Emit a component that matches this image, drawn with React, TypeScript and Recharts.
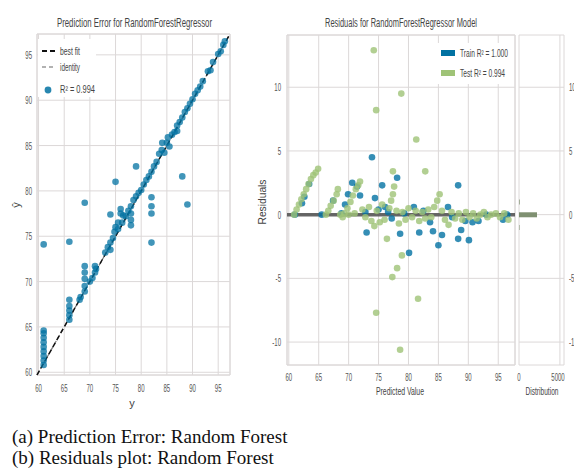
import React from 'react';
import {
  ScatterChart, Scatter, BarChart, Bar, XAxis, YAxis, CartesianGrid,
  ReferenceLine, ReferenceArea,
} from 'recharts';

// prediction error: [actual y, predicted ŷ]
const predictionPoints: [number, number][] = [
  [61, 60.8], [61, 61.3], [61, 61.8], [61, 62.3], [61, 62.8], [61, 63.3], [61, 63.8], [61, 64.3], [61, 64.6], [61, 74.1],
  [66, 74.4], [66, 65.8], [66, 66.3], [66, 66.8], [66, 67.3], [66, 68.0],
  [68, 68], [68.2, 68.3],
  [69, 78.7], [69, 71.7], [69, 71], [69, 70.3], [69, 69.5], [69, 68.9],
  [70, 70], [70.5, 70.4], [71, 71], [71, 71.7], [71.2, 71.4],
  [73, 73.2], [73.5, 73.8], [74, 73.5], [74, 74.3], [74, 77.4], [74.5, 74.8], [74.8, 75.5], [75, 76], [75, 81],
  [75.5, 75.8], [75.5, 76.5], [76, 78], [76, 77.5], [76.3, 76.5], [76.5, 77.3], [77, 77.2], [77.5, 77.8],
  [78, 76.2], [78, 76.8], [78, 77.5], [78, 78.3], [78.5, 79], [79, 79.4], [79, 82.7], [79.5, 79.8],
  [80, 80.1], [80.5, 80.7], [81, 81.2], [82, 79.3], [82, 78.3], [82, 77.5], [82, 74.3], [81.5, 81.6],
  [82, 82.1], [82.5, 82.7], [83, 83.2], [83.5, 84.1], [84, 84.5], [84.1, 85.3], [84.5, 84.2], [85, 85.3],
  [85.2, 85.9], [85.5, 84.9], [86, 86.2], [86.5, 86.5], [87, 86.6], [87, 87.2], [87.5, 87.6], [88, 81.6],
  [88, 88.1], [88.5, 88.7], [89, 78.5], [89, 89.1], [89.5, 89.6], [90, 90.1], [90.5, 90.7], [91, 91.1],
  [91.5, 91.5], [92, 92.1], [93, 93.2], [93.5, 93.3], [94, 94.2], [95, 95.1], [95.5, 95.4], [96, 96.1], [96.3, 96.5],
];
const predTicks = [60, 65, 70, 75, 80, 85, 90, 95];
const predDomain: [number, number] = [59.7, 97.3];

// residuals: [predicted value, residual]
const trainResiduals: [number, number][] = [
  [61.0, 0.0], [62.2, 0.9], [62.6, 1.4], [63.4, 2.4], [65.5, 0.0], [67.4, 1.1], [68.8, 0.1], [69.4, 0.8],
  [69.9, 1.6], [70.6, 2.5], [71.4, 2.2], [71.9, 1.5], [72.8, 0.2], [73.0, -1.4], [73.9, 4.5], [74.4, 1.3],
  [75.0, 0.4], [75.6, 2.3], [76.1, 0.6], [76.6, 0.2], [77.2, -0.3], [78.1, 2.9], [78.6, -1.5], [79.3, 0.1],
  [80.1, -3.0], [80.9, 0.6], [81.8, -1.4], [82.5, 0.3], [83.6, -0.6], [84.1, -1.3], [85.0, -2.4], [85.6, -1.6],
  [86.6, 0.6], [87.3, -0.2], [88.3, 2.3], [88.3, -1.9], [88.8, -1.2], [89.5, -0.5], [90.1, -2.0], [90.7, -0.6],
  [91.7, -0.5], [93.0, 0.0], [95.8, -0.4], [96.5, 0.0],
];
const testResiduals: [number, number][] = [
  [60.9, 0.0], [61.3, 0.4], [61.7, 0.8], [62.1, 1.2], [62.5, 1.6], [62.9, 2.0], [63.3, 2.4], [63.7, 2.8],
  [64.1, 3.1], [64.5, 3.3], [64.9, 3.6],
  [66.2, 0.0], [66.6, 0.3], [67.0, 0.7], [67.5, 1.1], [68.0, 1.6], [68.2, 2.0],
  [69.3, 0.1], [69.8, 0.5], [70.3, 1.0], [70.7, 1.5], [71.2, 2.0], [71.6, 2.3], [71.9, 2.6],
  [68.6, 0.0], [69.0, -0.2], [70.0, 0.0], [71.0, 0.1], [72.3, 0.4], [72.8, -0.2], [73.4, 0.6], [73.8, -0.5],
  [74.3, -0.9], [74.7, 0.3], [75.2, -0.6], [75.6, 0.8], [76.0, -0.4], [76.4, -1.9], [76.8, 0.5], [77.1, 1.1],
  [77.4, 1.6], [77.6, 2.2], [77.4, 3.4], [78.0, 0.3], [78.4, -0.7], [79.0, 0.2], [79.5, -0.4], [80.0, 0.5],
  [80.6, -0.2], [81.2, 0.3], [81.8, -0.5], [82.3, 0.2], [82.8, -0.3], [83.3, 0.4], [83.8, -0.2], [84.3, 0.6],
  [84.8, 1.1], [85.2, 1.6], [85.6, 0.3], [86.1, -0.4], [86.7, -0.8], [87.2, 0.2], [87.8, -0.3], [88.4, 0.1],
  [89.0, -0.4], [89.6, 0.2], [90.2, -0.2], [90.8, 0.1], [91.4, -0.3], [92.0, 0.0], [92.6, 0.2], [93.2, -0.2],
  [93.8, 0.0], [94.6, 0.1], [95.3, -0.2], [96.0, 0.1], [96.7, -0.4],
  [74.2, 12.9], [78.8, 9.5], [74.6, 8.2], [81.3, 5.9], [82.8, 3.4], [78.6, -10.6], [74.6, -7.7],
  [81.6, -6.6], [77.3, -4.9], [78.1, -4.2], [78.9, -3.2],
];
const residXTicks = [60, 65, 70, 75, 80, 85, 90, 95];
const residYTicks = [-10, -5, 0, 5, 10];
const residXDomain: [number, number] = [59.7, 97.8];
const residYDomain: [number, number] = [-11.8, 14.1];

// residual distribution histogram
const distBins = [-1, 0, 1];
const distCounts = [60, 2200, 80];
const distTicks = [0, 5000];

const BLUE = '#0272a2';
const GREEN = '#9fc377';
const GRID = '#dcd8d8';
const SANS = "'Liberation Sans', Arial, sans-serif";

const predData = predictionPoints.map(([x, y]) => ({ x, y }));
const trainData = trainResiduals.map(([x, y]) => ({ x, y }));
const testData = testResiduals.map(([x, y]) => ({ x, y }));
const distData = distBins.map((bin, i) => ({ bin, count: distCounts[i] }));

const makeTick = (dx: number, dy: number, anchor: string) => (props: any) => {
  const { x, y, payload } = props;
  return (
    <text
      transform={`translate(${x + dx},${y + dy}) scale(0.55,1)`}
      textAnchor={anchor}
      fontSize={11}
      fill="#555"
      fontFamily={SANS}
    >
      {payload.value}
    </text>
  );
};

const dot = (color: string, opacity: number) => (p: any) => (
  <circle cx={p.cx} cy={p.cy} r={3.3} fill={color} fillOpacity={opacity} />
);

const layer: React.CSSProperties = { position: 'absolute', left: 0, top: 0 };

const Sq = ({ x, y, len, size = 11, anchor = 'start', rotate = false, fill = '#444', children }: any) => (
  <text
    x={rotate ? 0 : x}
    y={rotate ? 0 : y}
    transform={rotate ? `translate(${x},${y}) rotate(-90)` : undefined}
    textAnchor={anchor}
    fontSize={size}
    fill={fill}
    fontFamily={SANS}
    textLength={len}
    lengthAdjust="spacingAndGlyphs"
  >
    {children}
  </text>
);

export default function App() {
  return (
    <div style={{ position: 'absolute', left: 0, top: 0, width: 574, height: 474, overflow: 'hidden', background: '#fff' }}>
      {/* prediction error */}
      <div style={layer}>
        <ScatterChart width={574} height={474} margin={{ top: 34, right: 344, bottom: 98, left: 36 }}>
          <CartesianGrid stroke={GRID} />
          <ReferenceArea x1={predDomain[0]} x2={predDomain[1]} y1={predDomain[0]} y2={predDomain[1]} fill="none" stroke={GRID} />
          <XAxis type="number" dataKey="x" domain={predDomain} ticks={predTicks} allowDataOverflow height={1}
            axisLine={false} tickLine={false} tickSize={0} tickMargin={0} tick={makeTick(0, 17, 'middle')} />
          <YAxis type="number" dataKey="y" domain={predDomain} ticks={predTicks} allowDataOverflow width={1}
            axisLine={false} tickLine={false} tickSize={0} tickMargin={0} tick={makeTick(-5, 4, 'end')} />
          <ReferenceLine segment={[{ x: predDomain[0], y: predDomain[0] }, { x: predDomain[1], y: predDomain[1] }]}
            stroke="#777" strokeWidth={1.2} strokeDasharray="4 3" />
          <Scatter data={predData} shape={dot(BLUE, 0.75)} isAnimationActive={false} />
          <ReferenceLine segment={[{ x: predDomain[0], y: predDomain[0] }, { x: predDomain[1], y: predDomain[1] }]}
            stroke="#111" strokeWidth={1.5} strokeDasharray="5 3" />
        </ScatterChart>
      </div>

      {/* residuals */}
      <div style={layer}>
        <ScatterChart width={574} height={474} margin={{ top: 35, right: 59, bottom: 108, left: 286 }}>
          <CartesianGrid stroke={GRID} />
          <ReferenceArea x1={residXDomain[0]} x2={residXDomain[1]} y1={residYDomain[0]} y2={residYDomain[1]} fill="none" stroke={GRID} />
          <XAxis type="number" dataKey="x" domain={residXDomain} ticks={residXTicks} allowDataOverflow height={1}
            axisLine={false} tickLine={false} tickSize={0} tickMargin={0} tick={makeTick(0, 16, 'middle')} />
          <YAxis type="number" dataKey="y" domain={residYDomain} ticks={residYTicks} allowDataOverflow width={1}
            axisLine={false} tickLine={false} tickSize={0} tickMargin={0} tick={makeTick(-6, 4, 'end')} />
          <ReferenceLine y={0} stroke="#555" strokeWidth={3.5} strokeOpacity={0.9} />
          <Scatter data={trainData} shape={dot(BLUE, 0.8)} isAnimationActive={false} />
          <Scatter data={testData} shape={dot(GREEN, 0.8)} isAnimationActive={false} />
        </ScatterChart>
      </div>

      {/* distribution */}
      <div style={layer}>
        <BarChart width={574} height={474} layout="vertical" data={distData}
          margin={{ top: 35, right: 9, bottom: 108, left: 519 }}>
          <CartesianGrid stroke={GRID} />
          <XAxis type="number" domain={[0, 5500]} ticks={distTicks} allowDataOverflow height={1}
            axisLine={false} tickLine={false} tickSize={0} tickMargin={0} tick={makeTick(0, 16, 'middle')} />
          <YAxis type="number" dataKey="bin" domain={residYDomain} ticks={residYTicks} allowDataOverflow width={1} reversed
            orientation="right" axisLine={false} tickLine={false} tickSize={0} tickMargin={0} tick={makeTick(5, 4, 'start')} />
          <Bar dataKey="count" fill="#7f9071" barSize={5} isAnimationActive={false} />
        </BarChart>
      </div>

      {/* titles, labels, legends */}
      <svg width={574} height={474} style={{ ...layer, pointerEvents: 'none' }}>
        <Sq x={134.5} y={27} len={155} size={12} anchor="middle">Prediction Error for RandomForestRegressor</Sq>
        <Sq x={401} y={27} len={152} size={12} anchor="middle">Residuals for RandomForestRegressor Model</Sq>
        <Sq x={20} y={205} size={11} anchor="middle" rotate>ŷ</Sq>
        <Sq x={132} y={407} size={11} anchor="middle">y</Sq>
        <Sq x={400} y={395} len={48} size={11} anchor="middle">Predicted Value</Sq>
        <Sq x={542} y={395} len={33} size={11} anchor="middle">Distribution</Sq>
        <Sq x={266} y={202} len={45} size={11} anchor="middle" rotate>Residuals</Sq>

        <rect x={38} y={39} width={58} height={58} fill="#fff" />
        <line x1={42} y1={51} x2={56} y2={51} stroke="#111" strokeWidth={2} strokeDasharray="5 3" />
        <Sq x={60} y={55} len={20} size={10}>best fit</Sq>
        <line x1={42} y1={67} x2={56} y2={67} stroke="#666" strokeWidth={1.2} strokeDasharray="4 3" />
        <Sq x={60} y={71} len={20} size={10}>identity</Sq>
        <circle cx={48} cy={90} r={3.4} fill={BLUE} fillOpacity={0.85} />
        <Sq x={60} y={93} len={35} size={10}>R² = 0.994</Sq>

        <rect x={437} y={43} width={76} height={41} fill="#fff" />
        <rect x={441} y={50} width={14} height={6} fill={BLUE} />
        <Sq x={460} y={57} len={48} size={10}>Train R² = 1.000</Sq>
        <rect x={441} y={70} width={14} height={6} fill={GREEN} />
        <Sq x={460} y={77} len={45} size={10}>Test R² = 0.994</Sq>
      </svg>

      <div style={{ position: 'absolute', left: 12, top: 426, fontFamily: "'Liberation Serif', 'Times New Roman', serif", fontSize: 19, lineHeight: '21px', color: '#111', whiteSpace: 'nowrap' }}>
        <div>(a) Prediction Error: Random Forest</div>
        <div>(b) Residuals plot: Random Forest</div>
      </div>
    </div>
  );
}
